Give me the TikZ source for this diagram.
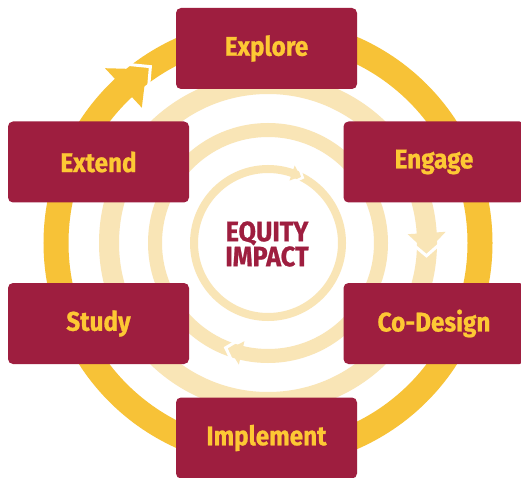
\documentclass[tikz,border=0pt]{standalone}
\usepackage{fontspec}
\setmainfont{Fira Sans}[FakeStretch=0.9, BoldFeatures={FakeBold=0.8}]
\usetikzlibrary{positioning}
\definecolor{maroon}{RGB}{158,30,63}
\definecolor{gold}{RGB}{247,194,55}
\definecolor{palegold}{RGB}{249,229,182}
\definecolor{textgold}{RGB}{253,200,52}

\begin{document}
\begin{tikzpicture}[x=1pt, y=1pt,
		stage/.style={rectangle, rounded corners=5pt, fill=maroon, text=textgold, minimum width=181pt, minimum height=81pt, inner sep=0pt, font=\fontsize{27}{30}\selectfont\bfseries},
		hub/.style={align=center, text=maroon, inner sep=0pt, font=\fontsize{28}{25}\selectfont\bfseries},
		outer/.style={draw=gold, line width=25pt},
		inner/.style={draw=palegold},
		gap/.style={draw=white, line width=3pt}]
		\clip (0,0) rectangle (521,477);
		\fill[white] (0,0) rectangle (521,477);

		\begin{scope}[shift={(268,234)}]
		\draw[outer] (0,0) circle (212);
		\draw[gap] (131.7:242) -- (123.7:212) -- (131.7:182);
		\fill[gold] (133:239) -- (125:212) -- (133:185) -- cycle;

		\draw[inner, line width=20pt] (0,0) circle (159);
		\draw[gap] (2.2:181) -- (-4.6:159) -- (2.2:137);
		\fill[palegold] (3.6:178) -- (-3.2:159) -- (3.6:140) -- cycle;

		\draw[inner, line width=14pt] (0,0) circle (113);
		\draw[gap] (254.5:127) -- (248:113) -- (254.5:99);
		\fill[palegold] (256.5:125) -- (250:113) -- (256.5:101) -- cycle;

		\draw[inner, line width=8pt] (0,0) circle (74);
		\draw[gap, line width=2.5pt] (69:84) -- (62:74) -- (69:64);
		\fill[palegold] (71:82) -- (64:74) -- (71:66) -- cycle;
		\end{scope}

		\node[stage] (1) at (266.5,428.5) {Explore};
		\node[stage] (2) at (434,315) {Engage};
		\node[stage] (3) at (434,153.5) {Co-Design};
		\node[stage] (4) at (266.5,39) {Implement};
		\node[stage] (5) at (98.5,153.5) {Study};
		\node[stage] (6) at (98.5,315) {Extend};
		\node[hub] (7) at (267,233) {EQUITY\\IMPACT};
	\end{tikzpicture}
\end{document}
